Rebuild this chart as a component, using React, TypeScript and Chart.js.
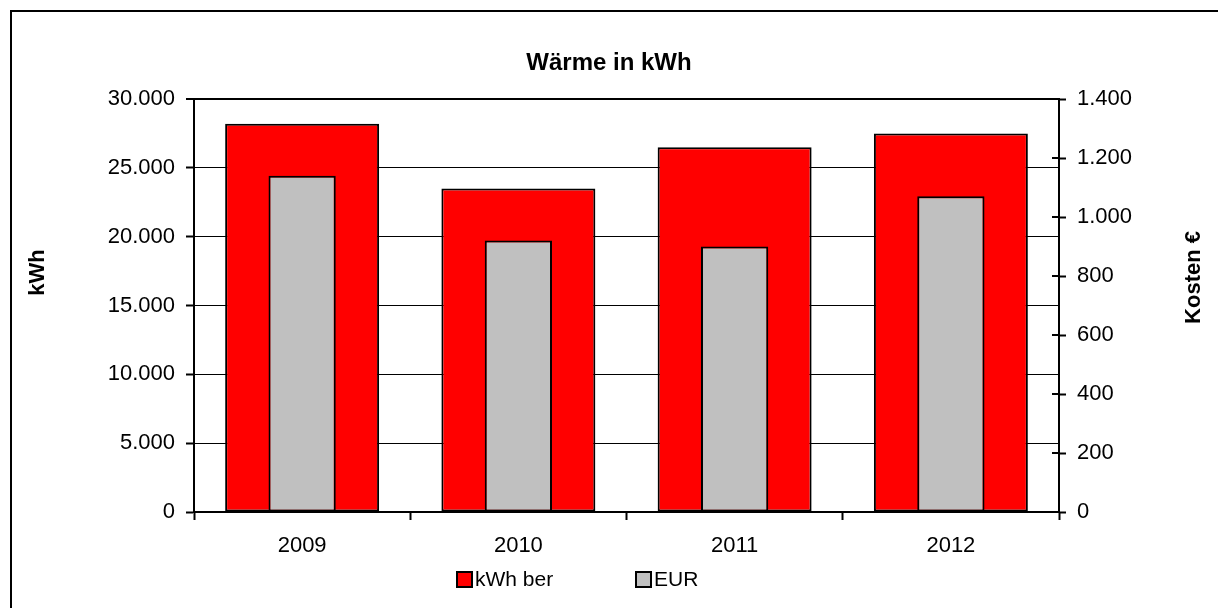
import React, { useEffect, useRef } from 'react';
import { Chart, registerables } from 'chart.js';

Chart.register(...registerables);

const categories = ['2009', '2010', '2011', '2012'];
const kwhValues = [28200, 23500, 26500, 27500];
const eurValues = [1140, 920, 900, 1070];
const seriesLabels = ['kWh ber', 'EUR'];
const chartTitle = 'Wärme in kWh';
const leftAxisTitle = 'kWh';
const rightAxisTitle = 'Kosten €';

const FONT = "'Liberation Sans', Arial, Helvetica, sans-serif";

const fmt = (v: number) => String(v).replace(/\B(?=(\d{3})+(?!\d))/g, '.');

const framePlugin = {
  id: 'frame',
  beforeDraw(chart: any) {
    const ctx = chart.ctx;
    ctx.save();
    ctx.fillStyle = '#ffffff';
    ctx.fillRect(0, 0, chart.width, chart.height);
    ctx.strokeStyle = '#000';
    ctx.lineWidth = 2;
    ctx.strokeRect(11, 11, chart.width + 100, chart.height + 100);
    ctx.restore();
  },
};

const extrasPlugin = {
  id: 'extras',
  afterDraw(chart: any) {
    const ctx = chart.ctx;
    const area = chart.chartArea;
    ctx.save();
    // inner half of crossing ticks on the right axis
    const y1 = chart.scales.y1;
    ctx.strokeStyle = '#000';
    ctx.lineWidth = 2;
    y1.ticks.forEach((t: any) => {
      const py = Math.round(y1.getPixelForValue(t.value));
      ctx.beginPath();
      ctx.moveTo(area.right - 7, py);
      ctx.lineTo(area.right, py);
      ctx.stroke();
    });
    // axis titles
    ctx.fillStyle = '#000';
    ctx.font = `bold 22px ${FONT}`;
    ctx.textAlign = 'center';
    ctx.textBaseline = 'middle';
    const ty = area.top + area.height * 0.42;
    ctx.save();
    ctx.translate(38, ty);
    ctx.rotate(-Math.PI / 2);
    ctx.fillText(leftAxisTitle, 0, 0);
    ctx.restore();
    ctx.save();
    ctx.translate(1194, ty + 5);
    ctx.rotate(-Math.PI / 2);
    ctx.fillText(rightAxisTitle, 0, 0);
    ctx.restore();
    // legend
    const legendX = [457, 636];
    const legendY = 572;
    chart.data.datasets.forEach((ds: any, i: number) => {
      const x = legendX[i];
      ctx.fillStyle = ds.backgroundColor;
      ctx.fillRect(x, legendY, 15, 15);
      ctx.strokeStyle = '#000';
      ctx.lineWidth = 2;
      ctx.strokeRect(x, legendY, 15, 15);
      ctx.fillStyle = '#000';
      ctx.font = `21px ${FONT}`;
      ctx.textAlign = 'left';
      ctx.textBaseline = 'middle';
      ctx.fillText(ds.label, x + 18, legendY + 8);
    });
    ctx.restore();
  },
};

export default function App() {
  const ref = useRef<HTMLCanvasElement | null>(null);

  useEffect(() => {
    if (!ref.current) return;
    const chart = new Chart(ref.current, {
      type: 'bar',
      data: {
        labels: categories,
        datasets: [
          {
            label: seriesLabels[0],
            data: kwhValues,
            yAxisID: 'y',
            backgroundColor: '#ff0000',
            borderColor: '#000',
            borderWidth: 2,
            borderSkipped: false,
            barPercentage: 0.712,
            categoryPercentage: 1,
            grouped: false,
            order: 1,
          },
          {
            label: seriesLabels[1],
            data: eurValues,
            yAxisID: 'y1',
            backgroundColor: '#c0c0c0',
            borderColor: '#000',
            borderWidth: 2,
            borderSkipped: false,
            barPercentage: 0.311,
            categoryPercentage: 1,
            grouped: false,
            order: 0,
          },
        ],
      },
      options: {
        responsive: false,
        animation: false,
        devicePixelRatio: 1,
        layout: { padding: 0 },
        plugins: {
          legend: { display: false },
          tooltip: { enabled: false },
          title: {
            display: true,
            text: chartTitle,
            color: '#000',
            font: { family: FONT, size: 24, weight: 'bold' },
            padding: { top: 48.6, bottom: 21.6 },
          },
        },
        scales: {
          x: {
            offset: true,
            grid: {
              offset: true,
              drawOnChartArea: false,
              tickLength: 8,
              tickWidth: 2,
              tickColor: '#000',
              color: '#000',
            },
            border: { display: true, color: '#000', width: 2 },
            ticks: { color: '#000', font: { family: FONT, size: 22 }, padding: 13 },
            afterFit: (s: any) => {
              s.height = 96;
            },
          },
          y: {
            position: 'left',
            min: 0,
            max: 30000,
            ticks: {
              stepSize: 5000,
              color: '#000',
              font: { family: FONT, size: 22 },
              padding: 11,
              callback: (v: any) => fmt(Number(v)),
            },
            grid: {
              color: '#000',
              lineWidth: (c: any) => (c.tick && c.tick.value === 30000 ? 2 : 1),
              tickLength: 8,
              tickWidth: 2,
              tickColor: '#000',
            },
            border: { display: true, color: '#000', width: 2 },
            afterFit: (s: any) => {
              s.width = 194;
            },
          },
          y1: {
            position: 'right',
            min: 0,
            max: 1400,
            ticks: {
              stepSize: 200,
              color: '#000',
              font: { family: FONT, size: 22 },
              padding: 11,
              callback: (v: any) => fmt(Number(v)),
            },
            grid: {
              drawOnChartArea: false,
              tickLength: 7,
              tickWidth: 2,
              tickColor: '#000',
              color: '#000',
            },
            border: { display: true, color: '#000', width: 2 },
            afterFit: (s: any) => {
              s.width = 159;
            },
          },
        },
      },
      plugins: [framePlugin, extrasPlugin],
    } as any);
    return () => chart.destroy();
  }, []);

  return (
    <div style={{ position: 'fixed', left: 0, top: 0, width: 1218, height: 608, background: '#fff' }}>
      <canvas ref={ref} width={1218} height={608} style={{ width: 1218, height: 608, display: 'block' }} />
    </div>
  );
}
